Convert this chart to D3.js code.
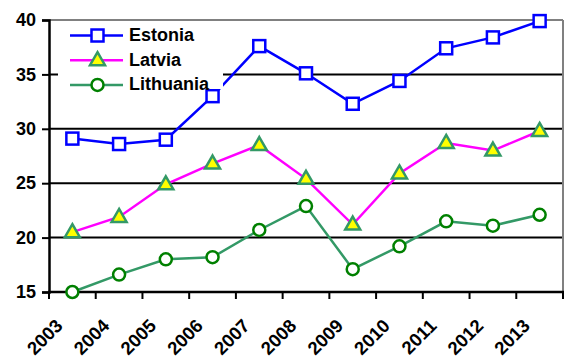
<!DOCTYPE html>
<html>
<head>
<meta charset="utf-8">
<script src="https://cdn.jsdelivr.net/npm/d3@7"></script>
<style>
  html, body { margin: 0; padding: 0; background: #fff; }
  svg { display: block; font-family: "Liberation Sans", Arial, sans-serif; }
</style>
</head>
<body>
<svg id="chart" width="565" height="358"></svg>
<script>
// Category labels (years) and series values
const years = ["2003","2004","2005","2006","2007","2008","2009","2010","2011","2012","2013"];
const estonia   = [29.1, 28.6, 29.0, 33.0, 37.6, 35.1, 32.3, 34.4, 37.4, 38.4, 39.9];
const latvia    = [20.5, 21.9, 24.9, 26.8, 28.5, 25.4, 21.2, 25.9, 28.7, 28.0, 29.8];
const lithuania = [15.0, 16.6, 18.0, 18.2, 20.7, 22.9, 17.1, 19.2, 21.5, 21.1, 22.1];
const yTicks = [15, 20, 25, 30, 35, 40];

const series = [
  { name: "Estonia",   values: estonia,   line: "#0000ff", marker: "square",   stroke: "#0000ff", fill: "#ffffff" },
  { name: "Latvia",    values: latvia,    line: "#ff00ff", marker: "triangle", stroke: "#339966", fill: "#ffff00" },
  { name: "Lithuania", values: lithuania, line: "#339966", marker: "circle",   stroke: "#008000", fill: "#ffffff" }
];

const svg = d3.select("#chart");
const plotLeft = 49, plotRight = 563, plotTop = 20, plotBottom = 292;

const x = d3.scaleBand().domain(years).range([plotLeft, plotRight]).padding(0);
const y = d3.scaleLinear().domain([15, 40]).range([plotBottom, plotTop]);
const cx = d => x(d) + x.bandwidth() / 2;

// Horizontal gridlines
svg.append("g").selectAll("line")
  .data(yTicks.filter(t => t > 15 && t < 40))
  .join("line")
  .attr("x1", plotLeft).attr("x2", plotRight)
  .attr("y1", d => y(d)).attr("y2", d => y(d))
  .attr("stroke", "#000").attr("stroke-width", 2);

// Plot-area border on top and right
svg.append("line").attr("x1", plotLeft).attr("x2", plotRight).attr("y1", plotTop).attr("y2", plotTop)
  .attr("stroke", "#808080").attr("stroke-width", 2);
svg.append("line").attr("x1", plotRight).attr("x2", plotRight).attr("y1", plotTop).attr("y2", plotBottom)
  .attr("stroke", "#808080").attr("stroke-width", 2);

// Y axis
const yAxis = svg.append("g")
  .attr("transform", `translate(${plotLeft},0)`)
  .call(d3.axisLeft(y).tickValues(yTicks).tickSize(7).tickPadding(6));
yAxis.select(".domain").attr("stroke", "#000").attr("stroke-width", 2.5);
yAxis.selectAll(".tick line").attr("stroke", "#000").attr("stroke-width", 2);
yAxis.selectAll(".tick text")
  .attr("font-size", 18).attr("font-weight", "bold").attr("fill", "#000")
  .attr("font-family", "Liberation Sans, Arial, sans-serif");

// X axis with ticks at category boundaries
const xAxis = svg.append("g").attr("transform", `translate(0,${plotBottom})`);
xAxis.append("line").attr("x1", plotLeft - 1).attr("x2", plotRight + 1)
  .attr("stroke", "#000").attr("stroke-width", 2.5);
const boundaries = years.map(d => x(d)).concat([plotRight]);
xAxis.selectAll("line.tk").data(boundaries).join("line").attr("class", "tk")
  .attr("x1", d => d).attr("x2", d => d).attr("y1", 0).attr("y2", 7)
  .attr("stroke", "#000").attr("stroke-width", 2);
svg.append("g").selectAll("text").data(years).join("text")
  .attr("transform", d => `translate(${cx(d) - 8.5},${327}) rotate(-45)`)
  .attr("text-anchor", "end")
  .attr("font-size", 18.5).attr("font-weight", "bold").attr("fill", "#000")
  .text(d => d);

// Marker drawing helper
function drawMarker(g, type, s) {
  if (type === "square") {
    return g.append("rect").attr("x", -6).attr("y", -6).attr("width", 12).attr("height", 12)
      .attr("fill", s.fill).attr("stroke", s.stroke).attr("stroke-width", 2.5);
  } else if (type === "triangle") {
    return g.append("path").attr("d", "M0,-8 L7.5,5 L-7.5,5 Z")
      .attr("fill", s.fill).attr("stroke", s.stroke).attr("stroke-width", 2.5)
      .attr("stroke-linejoin", "miter");
  } else {
    return g.append("circle").attr("r", 6)
      .attr("fill", s.fill).attr("stroke", s.stroke).attr("stroke-width", 2.5);
  }
}

// Series lines and markers
const line = d3.line().x((d, i) => cx(years[i])).y(d => y(d));
series.forEach(s => {
  svg.append("path").datum(s.values)
    .attr("d", line).attr("fill", "none")
    .attr("stroke", s.line).attr("stroke-width", 2.5);
  s.values.forEach((v, i) => {
    const g = svg.append("g").attr("transform", `translate(${cx(years[i])},${y(v)})`);
    drawMarker(g, s.marker, s);
  });
});

// Legend
const legend = svg.append("g");
legend.append("rect").attr("x", 58).attr("y", 22).attr("width", 165).attr("height", 67)
  .attr("fill", "#fff");
series.forEach((s, i) => {
  const ly = 35.5 + i * 24.7;
  legend.append("line").attr("x1", 70).attr("x2", 123).attr("y1", ly).attr("y2", ly)
    .attr("stroke", s.line).attr("stroke-width", 2.5);
  const g = legend.append("g").attr("transform", `translate(97.5,${ly})`);
  drawMarker(g, s.marker, s);
  legend.append("text").attr("x", 129).attr("y", ly + 5.5)
    .attr("font-size", 18).attr("font-weight", "bold").attr("fill", "#000")
    .text(s.name);
});
</script>
</body>
</html>
